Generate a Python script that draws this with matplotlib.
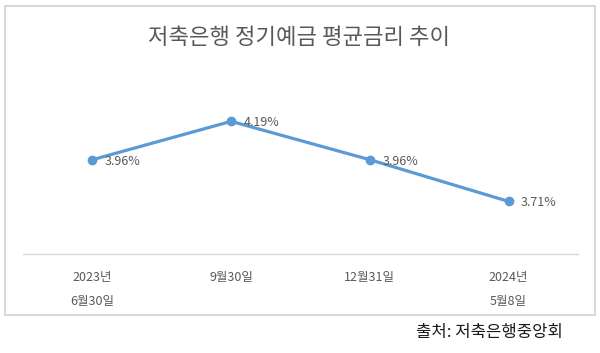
import matplotlib
matplotlib.use("Agg")
import matplotlib.pyplot as plt
from matplotlib.patches import Rectangle

plt.rcParams['font.family'] = ['Noto Sans CJK KR', 'DejaVu Sans']

categories = ["2023년\n6월30일", "9월30일", "12월31일", "2024년\n5월8일"]
rates = [3.96, 4.19, 3.96, 3.71]
labels = ["3.96%", "4.19%", "3.96%", "3.71%"]
title = "저축은행 정기예금 평균금리 추이"
source = "출처: 저축은행중앙회"

W, H = 600, 353
fig = plt.figure(figsize=(W / 100, H / 100), dpi=100)

def fx(x):
    return x / W

def fy(y):
    return 1 - y / H

# outer chart box
fig.patches.append(Rectangle((fx(5), fy(315)), fx(595) - fx(5), fy(6) - fy(315),
                             transform=fig.transFigure, fill=False,
                             edgecolor='#d9d9d9', linewidth=1.5))

ax_l, ax_r, ax_b, ax_t = 23, 578, 254, 103
ax = fig.add_axes([fx(ax_l), fy(ax_b), fx(ax_r) - fx(ax_l), fy(ax_t) - fy(ax_b)])
x = list(range(len(categories)))
ax.plot(x, rates, color='#5b9bd5', linewidth=2.3, marker='o', markersize=6,
        solid_capstyle='round')
ax.set_xlim(-0.5, len(categories) - 0.5)
ax.set_ylim(3.395, 4.3)
for xi, yi, lb in zip(x, rates, labels):
    ax.annotate(lb, (xi, yi), xytext=(9, -1), textcoords='offset points',
                ha='left', va='center', fontsize=9, color='#595959')

for s in ['top', 'right', 'left']:
    ax.spines[s].set_visible(False)
ax.spines['bottom'].set_color('#d9d9d9')
ax.spines['bottom'].set_linewidth(1)
ax.set_yticks([])
ax.set_xticks(x)
ax.set_xticklabels(categories, fontsize=9, color='#595959', linespacing=2.1)
ax.tick_params(axis='x', length=0, pad=12)
ax.patch.set_visible(False)

fig.text(fx(299), fy(37), title, ha='center', va='center', fontsize=16, color='#595959')
fig.text(fx(489), fy(332), source, ha='center', va='center', fontsize=12, color='#1a1a1a')

fig.savefig('out.png', dpi=100, facecolor='white')
